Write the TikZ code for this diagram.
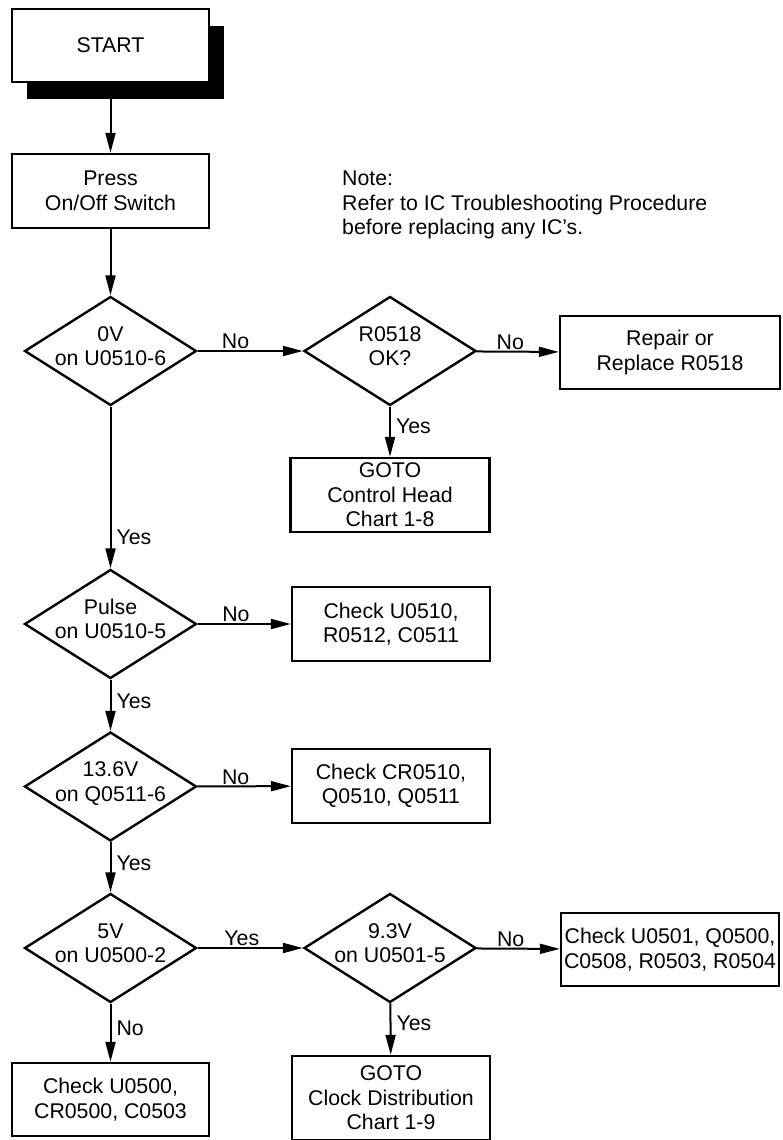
\documentclass[tikz,border=0pt]{standalone}
\usepackage{fontspec}
\setmainfont{Liberation Sans}
\usetikzlibrary{arrows.meta,shapes.geometric,shadows}

\begin{document}
\begin{tikzpicture}[
  x=1pt, y=1pt,
  font=\fontsize{21.3}{24.5}\selectfont,
  box/.style={draw, line width=2.4pt, align=center, inner sep=2pt},
  cond/.style={draw, diamond, line width=2.4pt, aspect=1.56, inner xsep=-20pt, inner ysep=0pt,
    minimum width=172pt, minimum height=109pt, align=center, text depth=10pt},
  arr/.style={-{Triangle[length=20pt,width=10pt]}, line width=2pt},
  lab/.style={inner sep=1pt},
  note/.style={align=left, inner sep=0pt, anchor=west}
]
\useasboundingbox (0,0) rectangle (782,-1140);

% Start and first check
\node[box, fill=white, minimum width=197pt, minimum height=73pt,
  drop shadow={shadow xshift=15pt, shadow yshift=-17pt, opacity=1, fill=black}] (start) at (110.5,-45.5) {START};
\node[box, minimum width=197pt, minimum height=74pt] (press) at (110.5,-191) {Press\\On/Off Switch};
\node[note] (icnote) at (342,-205)
  {Note:\\Refer to IC Troubleshooting Procedure\\before replacing any IC's.};

\draw[arr] (start) -- (press);

% 0V branch
\node[cond] (zerov) at (110.5,-351) {0V\\on U0510-6};
\node[cond] (rok) at (390,-351) {R0518\\OK?};
\node[box, minimum width=220pt, minimum height=73pt] (repair) at (670,-352.5) {Repair or\\Replace R0518};
\node[box, minimum width=199pt, minimum height=74pt] (ctrlhead) at (390,-495) {GOTO\\Control Head\\Chart 1-8};

\draw[arr] (press) -- (zerov);
\draw[arr] (zerov) -- node[lab, pos=0.36, above] {No} (rok);
\draw[arr] (rok) -- node[lab, pos=0.41, above] {No} (repair);
\draw[arr] (rok) -- node[lab, pos=0.4, right, xshift=4pt] {Yes} (ctrlhead);

% Pulse and 13.6V checks
\node[cond] (pulse) at (110.5,-624) {Pulse\\on U0510-5};
\node[box, minimum width=198pt, minimum height=74pt] (chkua) at (391,-624) {Check U0510,\\R0512, C0511};
\node[cond] (supply) at (110.5,-786.5) {13.6V\\on Q0511-6};
\node[box, minimum width=198pt, minimum height=74pt] (chkcr) at (391,-786) {Check CR0510,\\Q0510, Q0511};

\draw[arr] (zerov) -- node[lab, pos=0.81, right, xshift=4pt] {Yes} (pulse);
\draw[arr] (pulse) -- node[lab, pos=0.41, above] {No} (chkua);
\draw[arr] (pulse) -- node[lab, pos=0.42, right, xshift=4pt] {Yes} (supply);
\draw[arr] (supply) -- node[lab, pos=0.41, above] {No} (chkcr);

% 5V and 9.3V checks
\node[cond] (fivev) at (110.5,-948) {5V\\on U0500-2};
\node[cond] (ninev) at (390,-948) {9.3V\\on U0501-5};
\node[box, minimum width=218pt, minimum height=73pt] (chkub) at (670,-949.5) {Check U0501, Q0500,\\C0508, R0503, R0504};
\node[box, minimum width=197pt, minimum height=73pt] (chkuc) at (110.5,-1099.5) {Check U0500,\\CR0500, C0503};
\node[box, minimum width=198pt, minimum height=84pt] (clock) at (391,-1098) {GOTO\\Clock Distribution\\Chart 1-9};

\draw[arr] (supply) -- node[lab, pos=0.42, right, xshift=4pt] {Yes} (fivev);
\draw[arr] (fivev) -- node[lab, pos=0.42, above] {Yes} (ninev);
\draw[arr] (ninev) -- node[lab, pos=0.41, above] {No} (chkub);
\draw[arr] (fivev) -- node[lab, pos=0.42, right, xshift=4pt] {No} (chkuc);
\draw[arr] (ninev) -- node[lab, pos=0.38, right, xshift=4pt] {Yes} (clock);

\end{tikzpicture}
\end{document}
